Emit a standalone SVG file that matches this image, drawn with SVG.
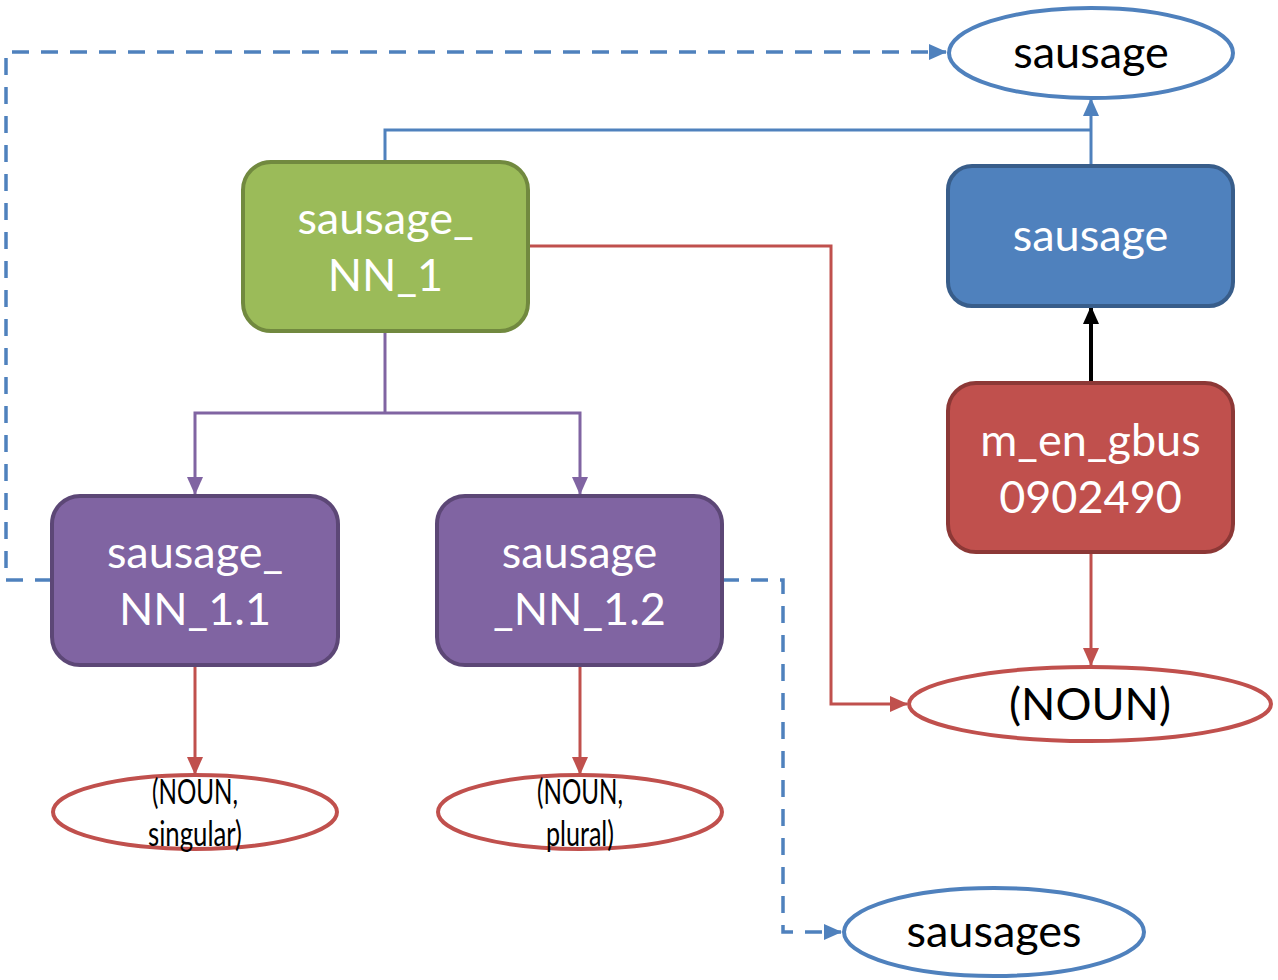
<svg xmlns="http://www.w3.org/2000/svg" width="1278" height="980" viewBox="0 0 1278 980">
  <defs>
    <style>
      .box { stroke-width: 4; }
      .green { fill: #9BBB59; stroke: #71893F; }
      .blue { fill: #4F81BD; stroke: #385D8A; }
      .red { fill: #C0504D; stroke: #8C3836; }
      .purple { fill: #8064A2; stroke: #5C4776; }
      .oval { fill: #FFFFFF; stroke-width: 4; }
      .oval-blue { stroke: #4F81BD; }
      .oval-red { stroke: #C0504D; }
      .lbl { font-family: Lato, "Open Sans", "Liberation Sans", sans-serif; font-size: 45px; text-anchor: middle; }
      .lbl-w { fill: #FFFFFF; }
      .lbl-k { fill: #000000; }
      .small { font-family: Lato, "Open Sans", "Liberation Sans", sans-serif; font-size: 35px; text-anchor: middle; fill: #000000; }
      .c { fill: none; stroke-width: 3; }
      .c-blue { stroke: #4F81BD; }
      .c-red { stroke: #C0504D; }
      .c-purple { stroke: #8064A2; }
      .c-black { stroke: #000000; stroke-width: 4; }
      .dash { stroke-dasharray: 17 12; stroke-width: 3.5; }
    </style>
    <marker id="ah-blue" markerUnits="userSpaceOnUse" markerWidth="18" markerHeight="16" refX="17" refY="8" orient="auto">
      <path d="M0,0 L18,8 L0,16 Z" fill="#4F81BD"/>
    </marker>
    <marker id="ah-red" markerUnits="userSpaceOnUse" markerWidth="18" markerHeight="16" refX="17" refY="8" orient="auto">
      <path d="M0,0 L18,8 L0,16 Z" fill="#C0504D"/>
    </marker>
    <marker id="ah-purple" markerUnits="userSpaceOnUse" markerWidth="18" markerHeight="16" refX="17" refY="8" orient="auto">
      <path d="M0,0 L18,8 L0,16 Z" fill="#8064A2"/>
    </marker>
    <marker id="ah-black" markerUnits="userSpaceOnUse" markerWidth="18" markerHeight="16" refX="17" refY="8" orient="auto">
      <path d="M0,0 L18,8 L0,16 Z" fill="#000000"/>
    </marker>
  </defs>

  <rect width="1278" height="980" fill="#FFFFFF"/>

  <!-- connectors -->
  <g id="connectors">
    <!-- dashed links -->
    <path class="c c-blue dash" d="M52,580 H6 V52 H946" marker-end="url(#ah-blue)"/>
    <path class="c c-blue dash" d="M722,580 H783 V932 H841" marker-end="url(#ah-blue)"/>
    <!-- lemma to word -->
    <path class="c c-blue" d="M385,162 V130 H1091"/>
    <path class="c c-blue" d="M1091,166 V99" marker-end="url(#ah-blue)"/>
    <!-- sense to POS -->
    <path class="c c-red" d="M528,246 H831 V704 H907" marker-end="url(#ah-red)"/>
    <path class="c c-red" d="M1091,552 V665" marker-end="url(#ah-red)"/>
    <path class="c c-red" d="M195,665 V774" marker-end="url(#ah-red)"/>
    <path class="c c-red" d="M580,665 V774" marker-end="url(#ah-red)"/>
    <!-- id to lemma -->
    <path class="c c-black" d="M1091,383 V307" marker-end="url(#ah-black)"/>
    <!-- sense split -->
    <path class="c c-purple" d="M385,331 V413"/>
    <path class="c c-purple" d="M385,413 H195 V494" marker-end="url(#ah-purple)"/>
    <path class="c c-purple" d="M385,413 H580 V494" marker-end="url(#ah-purple)"/>
  </g>

  <!-- nodes -->
  <g id="node-sense">
    <rect class="box green" x="243" y="162" width="285" height="169" rx="28"/>
    <text class="lbl lbl-w" x="385.5" y="234">sausage_</text>
    <text class="lbl lbl-w" x="385.5" y="291">NN_1</text>
  </g>

  <g id="node-lemma">
    <rect class="box blue" x="948" y="166" width="285" height="140" rx="24"/>
    <text class="lbl lbl-w" x="1090.5" y="251">sausage</text>
  </g>

  <g id="node-id">
    <rect class="box red" x="948" y="383" width="285" height="169" rx="28"/>
    <text class="lbl lbl-w" x="1090.5" y="456">m_en_gbus</text>
    <text class="lbl lbl-w" x="1090.5" y="513">0902490</text>
  </g>

  <g id="node-sense-1-1">
    <rect class="box purple" x="52" y="496" width="286" height="169" rx="28"/>
    <text class="lbl lbl-w" x="195" y="568">sausage_</text>
    <text class="lbl lbl-w" x="195" y="625">NN_1.1</text>
  </g>

  <g id="node-sense-1-2">
    <rect class="box purple" x="437" y="496" width="285" height="169" rx="28"/>
    <text class="lbl lbl-w" x="579.5" y="568">sausage</text>
    <text class="lbl lbl-w" x="579.5" y="625">_NN_1.2</text>
  </g>

  <g id="node-word-sausage">
    <ellipse class="oval oval-blue" cx="1091" cy="53" rx="142" ry="45"/>
    <text class="lbl lbl-k" x="1091" y="68">sausage</text>
  </g>

  <g id="node-noun">
    <ellipse class="oval oval-red" cx="1090" cy="704" rx="181" ry="37"/>
    <text class="lbl lbl-k" x="1090" y="720">(NOUN)</text>
  </g>

  <g id="node-noun-singular">
    <ellipse class="oval oval-red" cx="195" cy="812" rx="142" ry="37"/>
    <text class="small" x="195" y="804" textLength="86" lengthAdjust="spacingAndGlyphs">(NOUN,</text>
    <text class="small" x="195" y="846" textLength="94" lengthAdjust="spacingAndGlyphs">singular)</text>
  </g>

  <g id="node-noun-plural">
    <ellipse class="oval oval-red" cx="580" cy="812" rx="142" ry="37"/>
    <text class="small" x="580" y="804" textLength="86" lengthAdjust="spacingAndGlyphs">(NOUN,</text>
    <text class="small" x="580" y="846" textLength="68" lengthAdjust="spacingAndGlyphs">plural)</text>
  </g>

  <g id="node-word-sausages">
    <ellipse class="oval oval-blue" cx="994" cy="932" rx="150" ry="44"/>
    <text class="lbl lbl-k" x="994" y="947">sausages</text>
  </g>
</svg>
